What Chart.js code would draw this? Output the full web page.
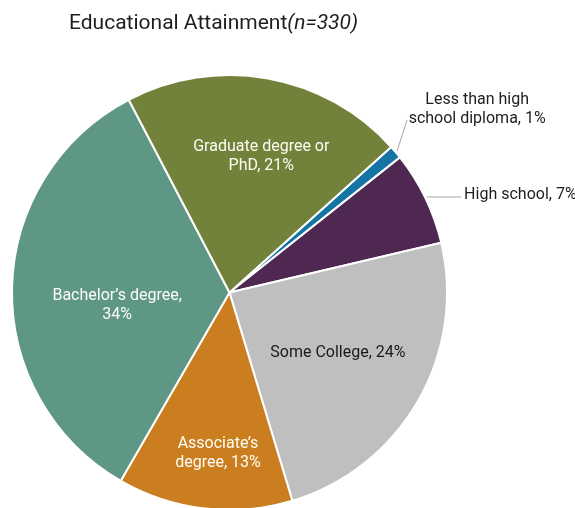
<!DOCTYPE html>
<html lang="en">
<head>
    <meta charset="UTF-8">
    <title>Educational Attainment</title>
    <script src="https://cdn.jsdelivr.net/npm/chart.js"></script>
    <style>
        html, body { margin: 0; background: #fff; overflow: hidden; }
        canvas { display: block; }
    </style>
</head>
<body>
    <!-- a little taller than the page so the pie bottom runs off the edge -->
    <canvas id="eduChart" width="575" height="516"></canvas>

    <script>
        // Education levels, clockwise from the thin slice at the top right
        const categories = ['Less than high school diploma', 'High school', 'Some College', 'Associate\u2019s degree', 'Bachelor\u2019s degree', 'Graduate degree or PhD'];
        const percents = [1, 7, 24, 13, 34, 21];
        const colors = ['#1475a4', '#4f2852', '#bfbfbf', '#cb7e1f', '#5e9786', '#72823a'];

        // Label text per slice (line breaks as drawn)
        const labelLines = [
            ['Less than high', 'school diploma, 1%'],
            ['High school, 7%'],
            ['Some College, 24%'],
            ['Associate\u2019s', 'degree, 13%'],
            ['Bachelor\u2019s degree,', '34%'],
            ['Graduate degree or', 'PhD, 21%']
        ];
        // where each label sits: angle shift (deg) from slice middle and radius fraction,
        // or a leader line offset for the small slices
        const labelPlace = [
            { outside: true, dx: 10, dy: -31 },
            { outside: true, dx: 34, dy: 0 },
            { shift: -1, r: 0.57, color: '#1a1a1a' },
            { shift: -2.5, r: 0.74, color: '#fdfdf5' },
            { shift: -7.6, r: 0.52, color: '#fdfdf5' },
            { shift: 3, r: 0.64, color: '#fdfdf5' }
        ];

        const FONT = 'Roboto, "Noto Sans", sans-serif';

        const titlePlugin = {
            id: 'titleText',
            afterDraw(chart) {
                const ctx = chart.ctx;
                ctx.save();
                ctx.fillStyle = '#1e1e1e';
                ctx.textBaseline = 'alphabetic';
                ctx.textAlign = 'left';
                ctx.font = '21px ' + FONT;
                const main = 'Educational Attainment';
                ctx.fillText(main, 69, 29);
                const w = ctx.measureText(main).width;
                ctx.font = 'italic 21px ' + FONT;
                ctx.fillText('(n=330)', 69 + w, 29);
                ctx.restore();
            }
        };

        const sliceLabels = {
            id: 'sliceLabels',
            afterDatasetsDraw(chart) {
                const ctx = chart.ctx;
                const arcs = chart.getDatasetMeta(0).data;
                ctx.save();
                ctx.font = '16px ' + FONT;
                ctx.textBaseline = 'middle';
                const lineH = 19;
                arcs.forEach((arc, i) => {
                    const p = labelPlace[i];
                    const lines = labelLines[i];
                    const mid = (arc.startAngle + arc.endAngle) / 2;
                    if (p.outside) {
                        // leader line from the rim outwards
                        const ex = arc.x + Math.cos(mid) * (arc.outerRadius + 2);
                        const ey = arc.y + Math.sin(mid) * (arc.outerRadius + 2);
                        const lx = ex + p.dx;
                        const ly = ey + p.dy;
                        ctx.strokeStyle = '#a6a6a6';
                        ctx.lineWidth = 1;
                        ctx.beginPath();
                        ctx.moveTo(ex, ey);
                        ctx.lineTo(lx, ly);
                        ctx.stroke();
                        ctx.fillStyle = '#1e1e1e';
                        if (lines.length === 1) {
                            ctx.textAlign = 'left';
                            ctx.fillText(lines[0], lx + 3, ly - 2);
                        } else {
                            ctx.textAlign = 'center';
                            const cx = lx + 70;
                            ctx.fillText(lines[0], cx, ly - 20);
                            ctx.fillText(lines[1], cx, ly - 1);
                        }
                        return;
                    }
                    const a = mid + p.shift * Math.PI / 180;
                    const x = arc.x + Math.cos(a) * arc.outerRadius * p.r;
                    const y = arc.y + Math.sin(a) * arc.outerRadius * p.r;
                    ctx.fillStyle = p.color;
                    ctx.textAlign = 'center';
                    const top = y - (lines.length - 1) * lineH / 2;
                    lines.forEach((t, k) => ctx.fillText(t, x, top + k * lineH));
                });
                ctx.restore();
            }
        };

        new Chart(document.getElementById('eduChart'), {
            type: 'pie',
            data: {
                labels: categories,
                datasets: [{
                    data: percents,
                    backgroundColor: colors,
                    borderColor: '#ffffff',
                    borderWidth: 2
                }]
            },
            options: {
                responsive: false,
                animation: false,
                rotation: 48,
                layout: {
                    padding: { left: 11, right: 127, top: 74, bottom: 5 }
                },
                plugins: {
                    legend: { display: false },
                    title: { display: false },
                    tooltip: { enabled: false }
                }
            },
            plugins: [sliceLabels, titlePlugin]
        });
    </script>
</body>
</html>
